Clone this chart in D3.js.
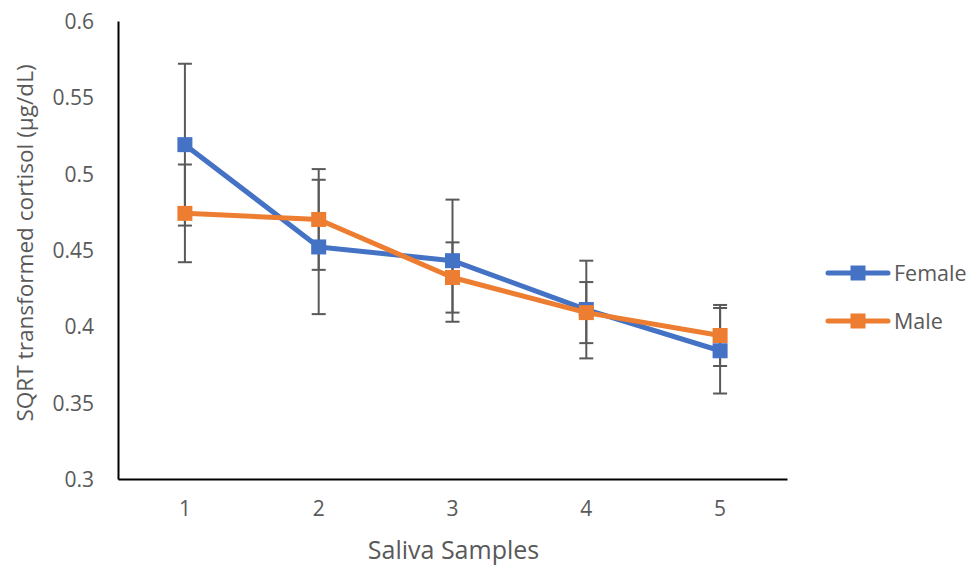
<!DOCTYPE html>
<html>
<head>
<meta charset="utf-8">
<script src="https://cdn.jsdelivr.net/npm/d3@7"></script>
<style>
  body { margin: 0; background: #fff; }
  text { font-family: "Open Sans", sans-serif; fill: #595959; }
</style>
</head>
<body>
<svg id="chart"></svg>
<script>
// values
const samples = ['1', '2', '3', '4', '5']
const femaleMean = [0.519, 0.452, 0.443, 0.411, 0.384]
const femaleErr = [0.053, 0.044, 0.040, 0.032, 0.028]
const maleMean = [0.474, 0.470, 0.432, 0.409, 0.394]
const maleErr = [0.032, 0.033, 0.023, 0.020, 0.020]
const yTicks = [0.3, 0.35, 0.4, 0.45, 0.5, 0.55, 0.6]

const series = [
    { name : 'Female', mean : femaleMean, err : femaleErr, color : '#4472C4' },
    { name : 'Male', mean : maleMean, err : maleErr, color : '#ED7D31' }
]

const width = 970
const height = 570
const m = { left : 118, right : 787, top : 21, bottom : 479 }

const svg = d3.select('#chart')
    .attr('width', width)
    .attr('height', height)

const x = d3.scaleBand()
    .domain(samples)
    .range([m.left, m.right])

const y = d3.scaleLinear()
    .domain([0.3, 0.6])
    .range([m.bottom, m.top])

const cx = d => x(d) + x.bandwidth() / 2

// axes
const yAxis = svg.append('g')
    .attr('transform', `translate(${m.left},0)`)
    .call(d3.axisLeft(y).tickValues(yTicks).tickSize(0).tickPadding(24).tickFormat(d => d3.format('')(+d.toFixed(2))))
yAxis.select('.domain').attr('stroke', '#000').attr('stroke-width', 2)
yAxis.selectAll('text').style('font-size', '21px').attr('dy', '0.35em')

const xAxis = svg.append('g')
    .attr('transform', `translate(0,${m.bottom})`)
    .call(d3.axisBottom(x).tickSize(0).tickPadding(22))
xAxis.select('.domain').attr('stroke', '#000').attr('stroke-width', 2)
xAxis.selectAll('text').style('font-size', '21px')

// titles
svg.append('text')
    .attr('x', (m.left + m.right) / 2 + 1)
    .attr('y', 559)
    .attr('text-anchor', 'middle')
    .style('font-size', '25px')
    .text('Saliva Samples')

svg.append('text')
    .attr('transform', `translate(33,243) rotate(-90)`)
    .attr('text-anchor', 'middle')
    .style('font-size', '22.6px')
    .text('SQRT transformed cortisol (μg/dL)')

// error bars
series.forEach(s => {
    const g = svg.append('g').attr('class', 'err')
    samples.forEach((d, i) => {
        const lo = y(s.mean[i] - s.err[i])
        const hi = y(s.mean[i] + s.err[i])
        g.append('line')
            .attr('x1', cx(d)).attr('x2', cx(d))
            .attr('y1', lo).attr('y2', hi)
        ;[lo, hi].forEach(v => {
            g.append('line')
                .attr('x1', cx(d) - 7).attr('x2', cx(d) + 7)
                .attr('y1', v).attr('y2', v)
        })
    })
    g.selectAll('line').attr('stroke', '#595959').attr('stroke-width', 2)
})

// lines and markers
const line = d3.line()
    .x((d, i) => cx(samples[i]))
    .y(d => y(d))

series.forEach(s => {
    svg.append('path')
        .datum(s.mean)
        .attr('d', line)
        .attr('fill', 'none')
        .attr('stroke', s.color)
        .attr('stroke-width', 5)
        .attr('stroke-linejoin', 'round')

    svg.selectAll(null)
        .data(s.mean)
        .enter()
        .append('rect')
        .attr('x', (d, i) => cx(samples[i]) - 7.5)
        .attr('y', d => y(d) - 7.5)
        .attr('width', 15)
        .attr('height', 15)
        .attr('fill', s.color)
})

// legend
const legend = svg.selectAll('.legend')
    .data(series)
    .enter()
    .append('g')
    .attr('class', 'legend')
    .attr('transform', (d, i) => `translate(828,${273 + i * 48})`)

legend.append('line')
    .attr('x1', 0).attr('x2', 60)
    .attr('stroke', d => d.color)
    .attr('stroke-width', 5)
    .attr('stroke-linecap', 'round')

legend.append('rect')
    .attr('x', 22.5).attr('y', -7.5)
    .attr('width', 15).attr('height', 15)
    .attr('fill', d => d.color)

legend.append('text')
    .attr('x', 66)
    .attr('dy', '0.35em')
    .style('font-size', '21.5px')
    .text(d => d.name)
</script>
</body>
</html>
